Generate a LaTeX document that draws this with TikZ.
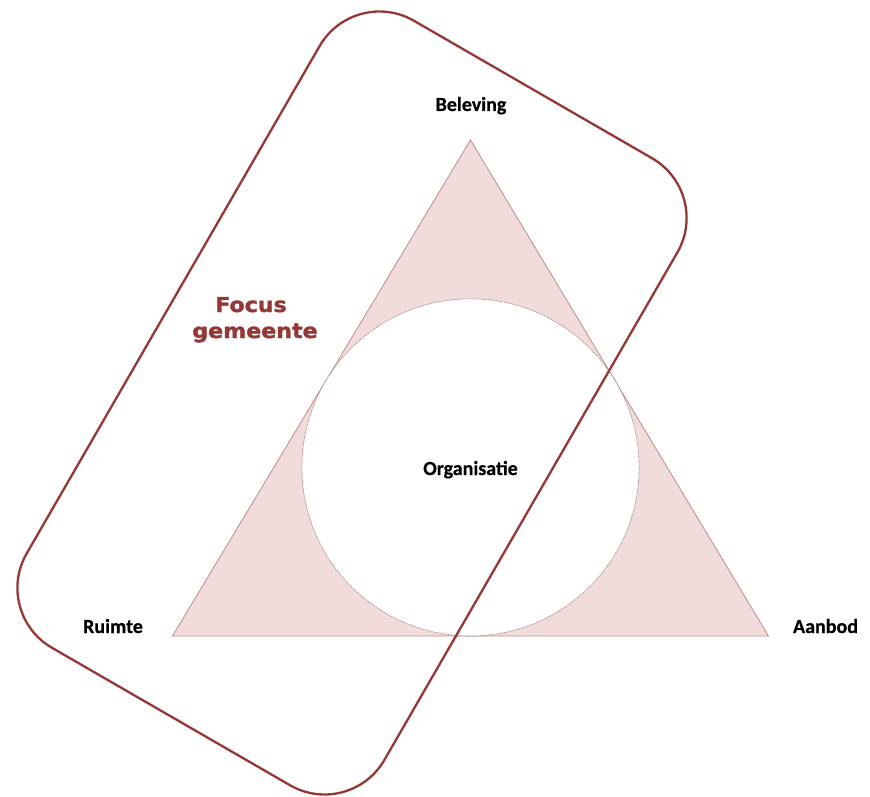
\documentclass[tikz,border=0pt]{standalone}
\usepackage{fontspec}
\setmainfont{Carlito}[BoldFeatures={FakeBold=0.5}]
\newfontfamily\focusfont{DejaVu Sans}[BoldFeatures={FakeBold=1.6}]
\definecolor{darkred}{HTML}{953735}
\definecolor{trifill}{HTML}{F2DCDB}
\definecolor{tristroke}{HTML}{BF8A88}
\definecolor{circstroke}{HTML}{A07C7C}
\tikzset{
  lab/.style={font=\bfseries\fontsize{20}{24}\selectfont, text=black, inner sep=0pt, anchor=base},
  focuslab/.style={font=\focusfont\bfseries\fontsize{20.5}{26}\selectfont, text=darkred, inner sep=0pt, anchor=base, xscale=1.08},
  tri/.style={fill=trifill, draw=tristroke, line width=0.8pt, line join=miter},
  incirc/.style={circle, fill=white, draw=circstroke, line width=0.6pt, dash pattern=on 1.2pt off 0.8pt, inner sep=0pt},
  focusbox/.style={draw=darkred, line width=2.3pt, rounded corners=69pt, inner sep=0pt}
}
\begin{document}
\begin{tikzpicture}[x=1pt, y=-1pt]
\useasboundingbox (0,0) rectangle (870,797);
\coordinate (T) at (470.5,140);
\coordinate (L) at (172.5,636);
\coordinate (R) at (768.5,636);
\path[tri] (T) -- (L) -- (R) -- cycle;
\node[incirc, minimum size=337.2pt] (org) at (470.5,467.4) {};
\node[focusbox, minimum width=413pt, minimum height=724pt, rotate=-30] (box) at (352,403) {};
\node[lab] (bel) at (471,111) {Beleving};
\node[lab] (orgt) at (470.5,475) {Organisatie};
\node[lab] (ruim) at (113,633) {Ruimte};
\node[lab] (aanb) at (825.5,633) {Aanbod};
\node[focuslab] (foc) at (251,312) {Focus};
\node[focuslab] (gem) at (255,338) {gemeente};
\end{tikzpicture}
\end{document}
